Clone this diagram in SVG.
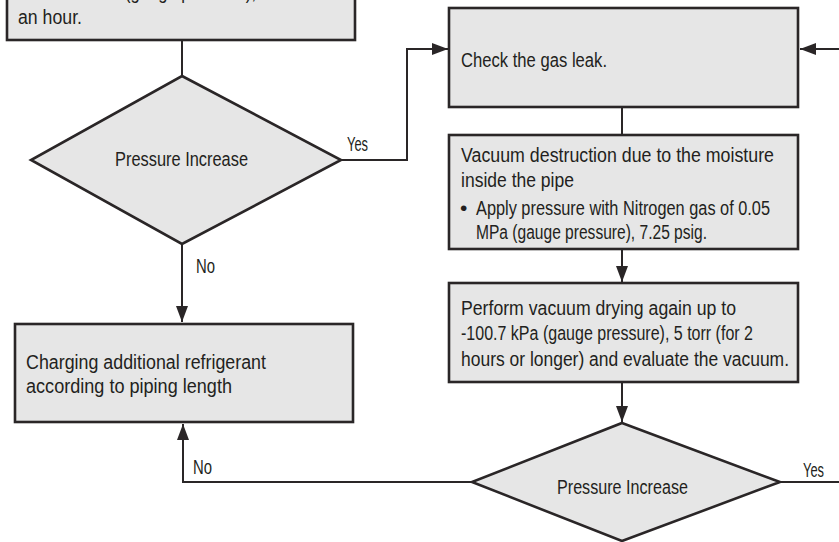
<svg xmlns="http://www.w3.org/2000/svg" width="839" height="542" viewBox="0 0 839 542">
<style>
.box{fill:#e6e6e6;stroke:#2a2627;stroke-width:2.6}
.dia{fill:#e6e6e6;stroke:#2a2627;stroke-width:2.6;stroke-linejoin:miter}
.ln{fill:none;stroke:#2a2627;stroke-width:2}
text{font-family:"Liberation Sans",Arial,sans-serif;font-size:21px;fill:#231f20}
</style>
<defs>
<marker id="ah" viewBox="0 0 16 12" refX="16" refY="6" markerWidth="16" markerHeight="12" markerUnits="userSpaceOnUse" orient="auto">
<path d="M0,0 L16,6 L0,12 Z" fill="#2a2627"/>
</marker>
</defs>
<g id="connectors">
<path class="ln" d="M182,40 V76"/>
<path class="ln" d="M341,160 H407 V49 H448" marker-end="url(#ah)"/>
<path class="ln" d="M839,49 H800" marker-end="url(#ah)"/>
<path class="ln" d="M182,244 V322" marker-end="url(#ah)"/>
<path class="ln" d="M622,107 V135"/>
<path class="ln" d="M622,249 V282" marker-end="url(#ah)"/>
<path class="ln" d="M622,382 V422" marker-end="url(#ah)"/>
<path class="ln" d="M472,482 H183 V424" marker-end="url(#ah)"/>
<path class="ln" d="M780,482 H839"/>
<text transform="translate(347,151) scale(0.8,1)" textLength="26.25" lengthAdjust="spacingAndGlyphs">Yes</text>
<text transform="translate(196,273) scale(0.8,1)" textLength="23.75" lengthAdjust="spacingAndGlyphs">No</text>
<text transform="translate(193,474) scale(0.8,1)" textLength="23.75" lengthAdjust="spacingAndGlyphs">No</text>
<text transform="translate(803,477) scale(0.8,1)" textLength="26.25" lengthAdjust="spacingAndGlyphs">Yes</text>
</g>
<g id="node-top">
<rect class="box" x="7" y="-10" width="348" height="50"/>
<text transform="translate(125,-1) scale(0.8,1)" textLength="163.75" lengthAdjust="spacingAndGlyphs">(gauge pressure),</text>
<text transform="translate(18,24) scale(0.8,1)" textLength="80" lengthAdjust="spacingAndGlyphs">an hour.</text>
</g>
<g id="node-decision1">
<polygon class="dia" points="182,76 341,160 182,244 31,160"/>
<text transform="translate(115,166) scale(0.8,1)" textLength="166.25" lengthAdjust="spacingAndGlyphs">Pressure Increase</text>
</g>
<g id="node-check">
<rect class="box" x="449" y="8" width="349" height="99"/>
<text transform="translate(461,67) scale(0.8,1)" textLength="182.5" lengthAdjust="spacingAndGlyphs">Check the gas leak.</text>
</g>
<g id="node-vacuum">
<rect class="box" x="449" y="135" width="349" height="114"/>
<text transform="translate(461,162) scale(0.8,1)" textLength="391.25" lengthAdjust="spacingAndGlyphs">Vacuum destruction due to the moisture</text>
<text transform="translate(461,187) scale(0.8,1)" textLength="141.25" lengthAdjust="spacingAndGlyphs">inside the pipe</text>
<text x="460" y="215" font-size="14">•</text>
<text transform="translate(476,215) scale(0.8,1)" textLength="367.5" lengthAdjust="spacingAndGlyphs">Apply pressure with Nitrogen gas of 0.05</text>
<text transform="translate(476,239) scale(0.8,1)" textLength="288.75" lengthAdjust="spacingAndGlyphs">MPa (gauge pressure), 7.25 psig.</text>
</g>
<g id="node-perform">
<rect class="box" x="449" y="283" width="349" height="99"/>
<text transform="translate(461,315) scale(0.8,1)" textLength="343.75" lengthAdjust="spacingAndGlyphs">Perform vacuum drying again up to</text>
<text transform="translate(461,340) scale(0.8,1)" textLength="365" lengthAdjust="spacingAndGlyphs">-100.7 kPa (gauge pressure), 5 torr (for 2</text>
<text transform="translate(461,366) scale(0.8,1)" textLength="410" lengthAdjust="spacingAndGlyphs">hours or longer) and evaluate the vacuum.</text>
</g>
<g id="node-charging">
<rect class="box" x="15" y="324" width="338" height="98"/>
<text transform="translate(26,369) scale(0.8,1)" textLength="300" lengthAdjust="spacingAndGlyphs">Charging additional refrigerant</text>
<text transform="translate(26,393) scale(0.8,1)" textLength="257.5" lengthAdjust="spacingAndGlyphs">according to piping length</text>
</g>
<g id="node-decision2">
<polygon class="dia" points="622,423 780,482 622,541 472,482"/>
<text transform="translate(557,494) scale(0.8,1)" textLength="163.75" lengthAdjust="spacingAndGlyphs">Pressure Increase</text>
</g>
</svg>
